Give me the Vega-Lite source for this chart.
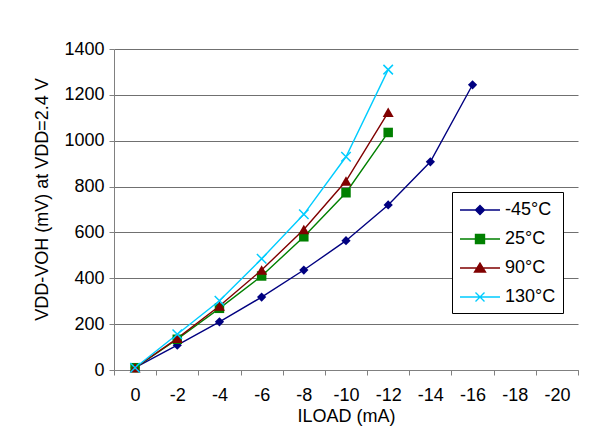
{
  "$schema": "https://vega.github.io/schema/vega-lite/v6.json",
  "width": 464,
  "height": 321,
  "autosize": {"type": "none"},
  "padding": {"left": 114, "top": 49, "right": 26, "bottom": 71},
  "background": "white",
  "config": {
    "font": "Liberation Sans",
    "view": {"stroke": null}
  },
  "data": {
    "values": [
      {"series": "-45°C", "iload": 0, "v": 10},
      {"series": "-45°C", "iload": -2, "v": 108},
      {"series": "-45°C", "iload": -4, "v": 210},
      {"series": "-45°C", "iload": -6, "v": 318},
      {"series": "-45°C", "iload": -8, "v": 436},
      {"series": "-45°C", "iload": -10, "v": 564},
      {"series": "-45°C", "iload": -12, "v": 720},
      {"series": "-45°C", "iload": -14, "v": 908},
      {"series": "-45°C", "iload": -16, "v": 1244},
      {"series": "25°C", "iload": 0, "v": 10},
      {"series": "25°C", "iload": -2, "v": 134},
      {"series": "25°C", "iload": -4, "v": 269},
      {"series": "25°C", "iload": -6, "v": 410},
      {"series": "25°C", "iload": -8, "v": 581},
      {"series": "25°C", "iload": -10, "v": 773},
      {"series": "25°C", "iload": -12, "v": 1036},
      {"series": "90°C", "iload": 0, "v": 10},
      {"series": "90°C", "iload": -2, "v": 138},
      {"series": "90°C", "iload": -4, "v": 279},
      {"series": "90°C", "iload": -6, "v": 436},
      {"series": "90°C", "iload": -8, "v": 613},
      {"series": "90°C", "iload": -10, "v": 824},
      {"series": "90°C", "iload": -12, "v": 1124},
      {"series": "130°C", "iload": 0, "v": 10},
      {"series": "130°C", "iload": -2, "v": 156},
      {"series": "130°C", "iload": -4, "v": 302},
      {"series": "130°C", "iload": -6, "v": 485},
      {"series": "130°C", "iload": -8, "v": 679},
      {"series": "130°C", "iload": -10, "v": 930},
      {"series": "130°C", "iload": -12, "v": 1310}
    ]
  },
  "encoding": {
    "x": {
      "field": "iload",
      "type": "ordinal",
      "scale": {"type": "band", "domain": [0, -2, -4, -6, -8, -10, -12, -14, -16, -18, -20], "paddingInner": 0, "paddingOuter": 0},
      "axis": {
        "title": "ILOAD (mA)",
        "labelAngle": 0,
        "tickBand": "extent",
        "grid": false,
        "domainColor": "#808080",
        "tickColor": "#808080",
        "tickSize": 5,
        "labelFontSize": 18,
        "labelColor": "black",
        "labelPadding": 11,
        "titleFontSize": 18,
        "titleFontWeight": "normal",
        "titleColor": "black",
        "titlePadding": 3
      }
    },
    "y": {
      "field": "v",
      "type": "quantitative",
      "scale": {"domain": [0, 1400], "nice": false},
      "axis": {
        "title": "VDD-VOH (mV) at VDD=2.4 V",
        "values": [0, 200, 400, 600, 800, 1000, 1200, 1400],
        "format": "d",
        "grid": true,
        "gridColor": "#707070",
        "gridWidth": 1,
        "domainColor": "#808080",
        "tickColor": "#808080",
        "tickSize": 5,
        "labelFontSize": 18,
        "labelColor": "black",
        "labelPadding": 5,
        "titleFontSize": 18,
        "titleFontWeight": "normal",
        "titleColor": "black",
        "titlePadding": 12,
        "titleY": 150
      }
    },
    "color": {
      "field": "series",
      "type": "nominal",
      "scale": {"range": ["#000080", "#00CCFF", "#008000", "#800000"]},
      "legend": null
    }
  },
  "layer": [
    {
      "mark": {"type": "line", "strokeWidth": 1.4}
    },
    {
      "transform": [{"filter": "datum.series === '-45°C'"}],
      "mark": {"type": "point", "shape": "M0,-1L1,0L0,1L-1,0Z", "filled": true, "opacity": 1, "size": 85}
    },
    {
      "transform": [{"filter": "datum.series === '25°C'"}],
      "mark": {"type": "point", "shape": "square", "filled": true, "opacity": 1, "size": 90}
    },
    {
      "transform": [{"filter": "datum.series === '90°C'"}],
      "mark": {"type": "point", "shape": "triangle-up", "filled": true, "opacity": 1, "size": 121}
    },
    {
      "transform": [{"filter": "datum.series === '130°C'"}],
      "mark": {"type": "point", "shape": "M-1,-1L1,1M-1,1L1,-1", "filled": false, "opacity": 1, "size": 90, "strokeWidth": 1.5}
    },
    {
      "transform": [{"filter": "datum.v < -1"}],
      "mark": {"type": "point", "filled": true, "opacity": 1, "strokeWidth": 1.4, "size": 400},
      "encoding": {
        "color": {"value": null},
        "fill": {
          "field": "series",
          "type": "nominal",
          "scale": {"domain": ["-45°C", "25°C", "90°C", "130°C"], "range": ["#000080", "#008000", "#800000", "#00CCFF"]},
          "legend": {
            "title": null, "orient": "none", "legendX": 338, "legendY": 143,
            "fillColor": "white", "strokeColor": "black", "padding": 7,
            "symbolSize": 400, "symbolStrokeWidth": 1.4, "symbolOpacity": 1,
            "labelFontSize": 18, "labelColor": "black", "labelOffset": 24, "rowPadding": 9
          }
        },
        "stroke": {
          "field": "series",
          "type": "nominal",
          "scale": {"domain": ["-45°C", "25°C", "90°C", "130°C"], "range": ["#000080", "#008000", "#800000", "#00CCFF"]},
          "legend": {
            "title": null, "orient": "none", "legendX": 338, "legendY": 143,
            "fillColor": "white", "strokeColor": "black", "padding": 7,
            "symbolSize": 400, "symbolStrokeWidth": 1.4, "symbolOpacity": 1,
            "labelFontSize": 18, "labelColor": "black", "labelOffset": 24, "rowPadding": 9
          }
        },
        "shape": {
          "field": "series",
          "type": "nominal",
          "scale": {"domain": ["-45°C", "25°C", "90°C", "130°C"], "range": ["M-1,0L3,0M1,-0.45L1.45,0L1,0.45L0.55,0Z", "M-1,0L3,0M0.55,-0.45L1.45,-0.45L1.45,0.45L0.55,0.45Z", "M-1,0L3,0M1,-0.5L1.55,0.4L0.45,0.4Z", "M-1,0L3,0M0.55,-0.45L1.45,0.45M0.55,0.45L1.45,-0.45"]},
          "legend": {
            "title": null, "orient": "none", "legendX": 338, "legendY": 143,
            "fillColor": "white", "strokeColor": "black", "padding": 7,
            "symbolSize": 400, "symbolStrokeWidth": 1.4, "symbolOpacity": 1,
            "labelFontSize": 18, "labelColor": "black", "labelOffset": 24, "rowPadding": 9
          }
        }
      }
    }
  ]
}
